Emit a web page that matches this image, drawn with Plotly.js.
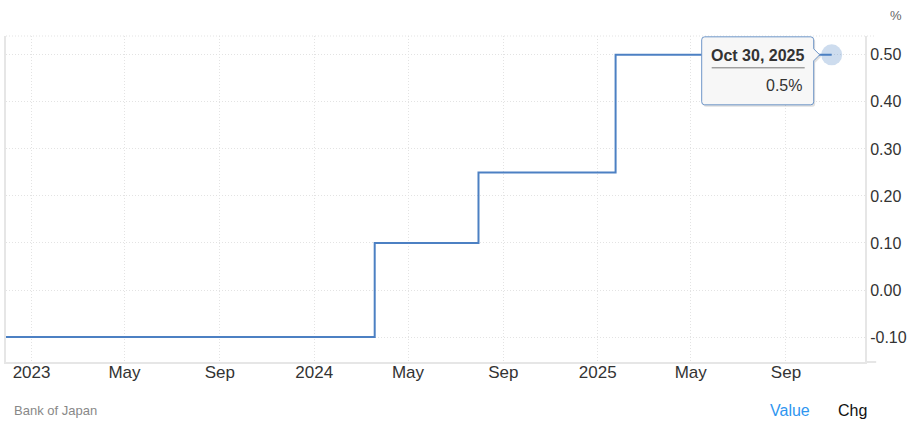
<!DOCTYPE html>
<html>
<head>
<meta charset="utf-8">
<script src="https://cdn.plot.ly/plotly-3.0.1.min.js"></script>
<style>
  html, body { margin: 0; padding: 0; background: #fff; }
  #chart { width: 907px; height: 435px; }
</style>
</head>
<body>
<div id="chart"></div>
<script>
// Bank of Japan policy rate (%), decision dates
const dates = ['2022-10-28','2022-12-20','2023-01-18','2023-03-10','2023-04-28','2023-06-16','2023-07-28','2023-09-22','2023-10-31','2023-12-19','2024-01-23','2024-03-19','2024-04-26','2024-06-14','2024-07-31','2024-09-20','2024-10-31','2024-12-19','2025-01-24','2025-03-19','2025-05-01','2025-06-17','2025-07-31','2025-09-19','2025-10-30'];
const rates = [-0.1,-0.1,-0.1,-0.1,-0.1,-0.1,-0.1,-0.1,-0.1,-0.1,-0.1,0.1,0.1,0.1,0.25,0.25,0.25,0.25,0.5,0.5,0.5,0.5,0.5,0.5,0.5];

const xTickVals = ['2023-01-01','2023-05-01','2023-09-01','2024-01-01','2024-05-01','2024-09-01','2025-01-01','2025-05-01','2025-09-01'];
const xTickText = ['2023','May','Sep','2024','May','Sep','2025','May','Sep'];
const yTickVals = [-0.1, 0, 0.1, 0.2, 0.3, 0.4, 0.5];
const yTickText = ['-0.10','0.00','0.10','0.20','0.30','0.40','0.50'];

const tooltipDate = 'Oct 30, 2025';
const tooltipValue = '0.5%';

const lineColor = 'rgb(76,128,195)';
const gridColor = '#e3e3e3';
const font = 'Arial, "Liberation Sans", sans-serif';

const lastX = dates[dates.length - 1];
const lastY = rates[rates.length - 1];

// tooltip box path (pixel offsets from last point; y up)
const L = -130, R = -18, T = 18, B = -50, r = 3;
function boxPath(dx, dy) {
  const p = (x, y) => (x + dx) + ',' + (y + dy);
  return 'M' + p(L + r, T) + ' L' + p(R - r, T) + ' Q' + p(R, T) + ' ' + p(R, T - r) +
    ' L' + p(R, 6) + ' L' + p(R + 6, 0) + ' L' + p(R, -6) +
    ' L' + p(R, B + r) + ' Q' + p(R, B) + ' ' + p(R - r, B) +
    ' L' + p(L + r, B) + ' Q' + p(L, B) + ' ' + p(L, B + r) +
    ' L' + p(L, T - r) + ' Q' + p(L, T) + ' ' + p(L + r, T) + ' Z';
}

const traces = [
  {
    x: dates, y: rates, type: 'scatter', mode: 'lines',
    line: { color: lineColor, width: 2, shape: 'hv' },
    hoverinfo: 'skip', showlegend: false, cliponaxis: true
  },
  {
    x: [lastX], y: [lastY], type: 'scatter', mode: 'markers',
    marker: { color: 'rgba(76,128,195,0.28)', size: 21 },
    hoverinfo: 'skip', showlegend: false, cliponaxis: false
  }
];

const layout = {
  width: 907, height: 435,
  margin: { l: 6, r: 42, t: 36, b: 73 },
  paper_bgcolor: '#fff', plot_bgcolor: '#fff',
  font: { family: font, color: '#333' },
  showlegend: false,
  xaxis: {
    type: 'date',
    range: ['2022-11-29', '2025-12-12'],
    tickvals: xTickVals, ticktext: xTickText,
    tickfont: { size: 17, color: '#333', family: font },
    showgrid: true, gridcolor: gridColor, griddash: '1px,2px', gridwidth: 1,
    showline: true, linecolor: '#e6e6e6', linewidth: 2,
    ticks: '', ticklabelstandoff: -6, zeroline: false, fixedrange: true
  },
  yaxis: {
    side: 'right',
    range: [-0.153, 0.540],
    tickvals: yTickVals, ticktext: yTickText,
    tickfont: { size: 16, color: '#333', family: font },
    showgrid: true, gridcolor: gridColor, griddash: '1px,2px', gridwidth: 1,
    showline: true, mirror: true, linecolor: '#e6e6e6', linewidth: 2,
    ticks: '', ticklabelstandoff: 0,
    zeroline: false, fixedrange: true
  },
  shapes: [
    // top border (dotted)
    { type: 'line', xref: 'paper', yref: 'paper', x0: 0, x1: 1.012, y0: 1, y1: 1,
      line: { color: gridColor, width: 1, dash: '1px,2px' }, layer: 'below' },
    // bottom border extension
    { type: 'line', xref: 'paper', yref: 'paper', x0: 1, x1: 1.013, y0: 0, y1: 0,
      line: { color: '#e6e6e6', width: 2 }, layer: 'below' },
    // tooltip shadow
    { type: 'path', xref: 'x', yref: 'y', xsizemode: 'pixel', ysizemode: 'pixel',
      xanchor: lastX, yanchor: lastY, path: boxPath(1.5, -2),
      fillcolor: 'rgba(0,0,0,0.12)', line: { width: 0 }, layer: 'above' },
    // tooltip box
    { type: 'path', xref: 'x', yref: 'y', xsizemode: 'pixel', ysizemode: 'pixel',
      xanchor: lastX, yanchor: lastY, path: boxPath(0, 0),
      fillcolor: '#f7f7f7', line: { color: 'rgb(110,150,200)', width: 1 }, layer: 'above' },
    // underline under the date
    { type: 'line', xref: 'x', yref: 'y', xsizemode: 'pixel', ysizemode: 'pixel',
      xanchor: lastX, yanchor: lastY, x0: -120, x1: -27, y0: -13, y1: -13,
      line: { color: '#777', width: 1 }, layer: 'above' }
  ],
  annotations: [
    { xref: 'x', yref: 'y', x: lastX, y: lastY, xshift: -74, yshift: -1,
      text: '<b>' + tooltipDate + '</b>', showarrow: false,
      xanchor: 'center', yanchor: 'middle',
      font: { size: 16, color: '#333', family: font } },
    { xref: 'x', yref: 'y', x: lastX, y: lastY, xshift: -28, yshift: -31,
      text: tooltipValue, showarrow: false,
      xanchor: 'right', yanchor: 'middle',
      font: { size: 16, color: '#333', family: font } },
    { xref: 'paper', yref: 'paper', x: 1.036, y: 1.064, text: '%', showarrow: false,
      xanchor: 'center', yanchor: 'middle',
      font: { size: 13, color: '#666', family: font } },
    { xref: 'paper', yref: 'paper', x: 0.007, y: -0.150, text: 'Bank of Japan', showarrow: false,
      xanchor: 'left', yanchor: 'middle',
      font: { size: 13, color: '#888', family: font } },
    { xref: 'paper', yref: 'paper', x: 0.9127, y: -0.150, text: 'Value', showarrow: false,
      xanchor: 'center', yanchor: 'middle',
      font: { size: 16, color: '#2f96f0', family: font } },
    { xref: 'paper', yref: 'paper', x: 0.986, y: -0.150, text: 'Chg', showarrow: false,
      xanchor: 'center', yanchor: 'middle',
      font: { size: 16, color: '#111', family: font } }
  ]
};

Plotly.newPlot('chart', traces, layout, { displayModeBar: false, staticPlot: true });
</script>
</body>
</html>
